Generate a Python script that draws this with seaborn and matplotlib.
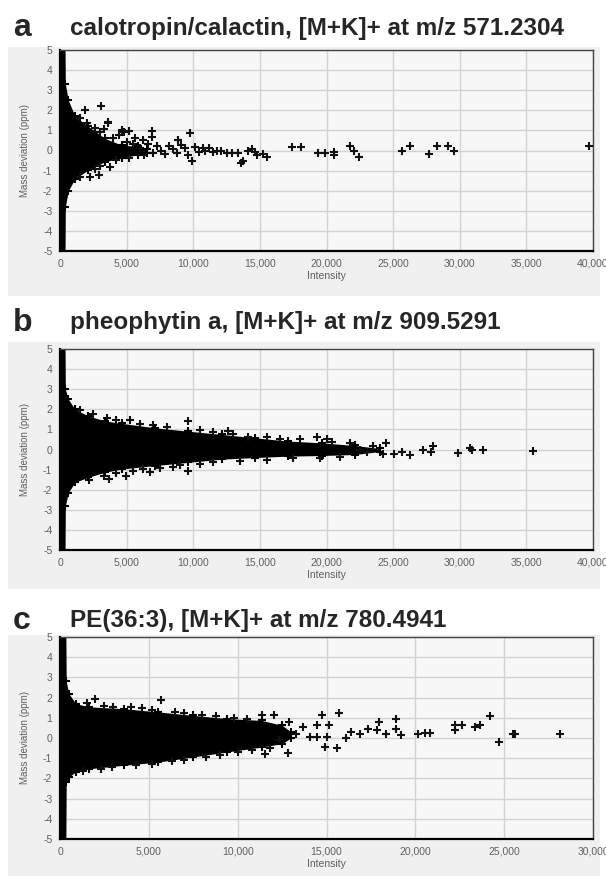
import numpy as np
import pandas as pd
import matplotlib
matplotlib.use('Agg')
import matplotlib.pyplot as plt
import seaborn as sns
from matplotlib.patches import Rectangle
from matplotlib.ticker import FuncFormatter, MultipleLocator

# ---------------- data ----------------
titles = ["calotropin/calactin, [M+K]+ at m/z 571.2304",
          "pheophytin a, [M+K]+ at m/z 909.5291",
          "PE(36:3), [M+K]+ at m/z 780.4941"]
letters = ["a", "b", "c"]
x_max = [40000, 40000, 30000]

# dense core envelopes
a_env_x = [0, 380, 400, 625, 1125, 2125, 3375, 4625, 5875, 6500]
a_env_up = [5, 5, 3.3, 2.5, 1.7, 1.2, 0.6, 0.27, 0.2, 0.05]
a_env_lo = [-5, -5, -2.8, -2.0, -1.4, -0.97, -0.55, -0.38, -0.2, -0.1]

b_env_x = [0, 380, 400, 625, 1125, 2125, 3375, 4625, 7125, 9625, 12125, 14625,
           17125, 19625, 22125, 24000]
b_env_up = [5, 5, 3.0, 2.5, 2.0, 1.67, 1.42, 1.3, 1.08, 0.91, 0.75, 0.58, 0.42,
            0.33, 0.2, 0.05]
b_env_lo = [-5, -5, -2.8, -2.14, -1.63, -1.38, -1.13, -0.97, -0.8, -0.64, -0.48,
            -0.4, -0.33, -0.3, -0.25, -0.1]

c_env_x = [0, 330, 350, 495, 885, 1655, 3600, 5530, 7470, 9410, 11350, 12500, 13000]
c_env_up = [5, 5, 2.8, 2.2, 1.7, 1.54, 1.45, 1.29, 1.12, 0.96, 0.87, 0.63, 0.3]
c_env_lo = [-5, -5, -2.2, -1.93, -1.68, -1.52, -1.35, -1.19, -0.94, -0.69, -0.45,
            -0.28, 0.0]

# individual points
a_pts_x = [1875, 3050, 3625, 4625, 5175, 6875, 6875, 9750, 8875, 9875, 3750, 2250,
           4780, 3600, 8840, 10875, 11800, 12550, 13375, 13620, 13750, 14125, 14600,
           15225, 15500, 17375, 18075, 19375, 19875, 20580, 20580, 21740, 22030,
           22470, 25660, 26240, 27690, 28270, 29140, 29580, 39720,
           6000, 6300, 6600, 7000, 7300, 7600, 7900, 8200, 8500, 8800, 9100, 9400,
           9600, 10100, 10400, 10700, 11200, 11500, 12100, 12900, 14400, 14800,
           1500, 2000, 2600, 3000, 4000, 5000, 5500, 1500, 2600, 3000, 4200, 5200,
           2900, 6200, 5600, 4400, 3300]
a_pts_y = [2.0, 2.2, 1.4, 1.0, 0.95, 0.95, 0.65, 0.85, 0.5, -0.5, -0.8, -1.3,
           0.93, 1.37, 0.5, 0.0, 0.0, -0.1, -0.1, -0.64, -0.5, 0.0, -0.05,
           -0.15, -0.3, 0.15, 0.15, -0.1, -0.1, -0.05, -0.2, 0.2, 0.0,
           -0.3, 0.0, 0.2, -0.15, 0.2, 0.2, 0.0, 0.2,
           0.1, -0.2, 0.3, -0.1, 0.2, 0.0, -0.15, 0.2, 0.05, -0.1, 0.25, 0.1,
           -0.2, 0.15, -0.05, 0.1, 0.1, -0.05, 0.0, -0.1, 0.05, -0.2,
           1.6, 1.35, 1.1, 0.9, 0.6, 0.4, 0.3, -1.3, -0.9, -0.75, -0.45, -0.35,
           -1.2, 0.5, 0.6, 0.75, 1.05]

b_pts_x = [5250, 9630, 12600, 14100, 4950, 9630, 6750, 8500, 19290, 20440, 21030,
           21750, 22480, 23060, 23490, 24220, 24500, 25090, 25670, 26250, 27270,
           27990, 27840, 29880, 30750, 30890, 31760, 35480,
           1500, 2500, 3500, 4200, 6000, 7000, 8000, 10500, 11500, 13000, 15500,
           16500, 18000, 20000, 2200, 3300, 4200, 5500, 6200, 7500, 9000, 10500,
           11500, 13500, 15500, 17500, 19500, 3700]
b_pts_y = [1.48, 1.43, 0.9, 0.63, -1.33, -1.06, -1.1, -0.87, 0.64, 0.39, -0.36,
           0.3, 0.0, -0.1, 0.15, -0.2, 0.3, -0.2, -0.1, -0.27, 0.0,
           0.15, -0.1, -0.15, 0.05, 0.0, 0.0, -0.05,
           1.95, 1.75, 1.55, 1.45, 1.25, 1.2, 1.1, 0.95, 0.85, 0.75, 0.6,
           0.5, 0.5, 0.5, -1.5, -1.3, -1.15, -1.05, -0.95, -0.9, -0.78, -0.7,
           -0.6, -0.55, -0.5, -0.42, -0.4, -1.45]

c_pts_x = [5690, 1950, 11350, 12030, 12900, 11540, 12860, 14740, 15700, 14450, 15120,
           14930, 15570, 15030, 14450, 16100, 16380, 16880, 17360, 17940, 17840,
           18330, 18910, 18910, 19190, 20170, 20560, 20850, 22210, 22210, 22600,
           23360, 23660, 24200, 24720, 25500, 25600, 28170, 13290, 13670, 14060,
           12320,
           1500, 2500, 3000, 4000, 4600, 5200, 6500, 7000, 8000, 8800, 9800, 10500,
           1300, 2300, 2900, 4300, 5200, 6300, 7000, 8200, 9000, 10000, 10800, 11800]
c_pts_y = [1.87, 1.95, 1.12, 1.12, 0.79, -0.78, -0.74, 1.12, 1.24, 0.63, 0.63,
           -0.45, -0.5, 0.05, 0.05, 0.0, 0.3, 0.22, 0.46, 0.79, 0.38,
           0.22, 0.96, 0.46, 0.13, 0.22, 0.25, 0.25, 0.63, 0.38, 0.66,
           0.55, 0.63, 1.07, -0.2, 0.22, 0.22, 0.22, 0.22, 0.55, 0.05,
           -0.12,
           1.75, 1.6, 1.55, 1.55, 1.5, 1.4, 1.3, 1.25, 1.15, 1.1, 1.0, 0.95,
           -1.65, -1.55, -1.45, -1.35, -1.3, -1.15, -1.1, -0.95, -0.85, -0.7, -0.6, -0.5]

envs = [(a_env_x, a_env_lo, a_env_up), (b_env_x, b_env_lo, b_env_up),
        (c_env_x, c_env_lo, c_env_up)]
pts = [(a_pts_x, a_pts_y), (b_pts_x, b_pts_y), (c_pts_x, c_pts_y)]

# ---------------- layout (pixels) ----------------
W, H = 606, 876
bg_tb = [(47, 296), (342, 589), (635, 876)]
ax_tb = [(50, 251), (349, 550), (637, 839)]
title_y = [28, 323, 621]

sns.set_style('white')
plt.rcParams['font.family'] = ['Liberation Sans', 'DejaVu Sans']
plt.rcParams['axes.unicode_minus'] = False

fig = plt.figure(figsize=(W / 100, H / 100), dpi=100)
fig.patch.set_facecolor('white')

def fy(py):
    return 1 - py / H

for i in range(3):
    t, b = bg_tb[i]
    fig.patches.append(Rectangle((8 / W, fy(b)), 592 / W, (b - t) / H,
                                 transform=fig.transFigure, facecolor='#f0f0f0',
                                 edgecolor='none', zorder=-10))
    at, ab = ax_tb[i]
    ax = fig.add_axes([60 / W, fy(ab), 533 / W, (ab - at) / H])
    ax.set_zorder(1)
    ax.set_facecolor('#f7f7f7')
    ax.set_axisbelow(True)
    ex, elo, eup = envs[i]
    ax.fill_between(ex, elo, eup, color='black', lw=0, zorder=2)
    df = pd.DataFrame({'Intensity': pts[i][0], 'dev': pts[i][1]})
    sns.scatterplot(data=df, x='Intensity', y='dev', marker='+', s=40,
                    color='#111111', linewidth=1.5, ax=ax, zorder=3)
    envdf = pd.DataFrame({'x': ex[2:] + ex[2:], 'y': eup[2:] + elo[2:]})
    sns.scatterplot(data=envdf, x='x', y='y', marker='+', s=40, color='black',
                    linewidth=1.5, ax=ax, zorder=3)
    ax.set_xlim(0, x_max[i])
    ax.set_ylim(-5, 5)
    ax.yaxis.set_major_locator(MultipleLocator(1))
    ax.xaxis.set_major_locator(MultipleLocator(5000))
    ax.xaxis.set_minor_locator(MultipleLocator(1250))
    ax.xaxis.set_major_formatter(FuncFormatter(lambda v, p: f"{int(v):,}"))
    ax.grid(True, which='major', color='#d2d2d2', lw=1)
    ax.tick_params(axis='both', which='major', labelsize=7.5, labelcolor='#606060',
                   color='#888888', length=2.5, width=0.8, direction='out', pad=3)
    ax.tick_params(axis='x', which='minor', color='#888888', length=2, width=0.6,
                   direction='out')
    for s in ['top', 'right']:
        ax.spines[s].set_color('#444444')
        ax.spines[s].set_linewidth(1.0)
    for s in ['left', 'bottom']:
        ax.spines[s].set_color('black')
        ax.spines[s].set_linewidth(1.6)
    ax.set_xlabel('Intensity', fontsize=7.5, color='#606060', labelpad=2)
    ax.set_ylabel('Mass deviation (ppm)', fontsize=7, color='#606060', labelpad=9)
    fig.text(13 / W, fy(title_y[i]), letters[i], fontsize=23, fontweight='bold',
             ha='left', va='center')
    fig.text(70 / W, fy(title_y[i]), titles[i], fontsize=17.5, fontweight='bold',
             ha='left', va='center')

fig.savefig('out.png', dpi=100)
